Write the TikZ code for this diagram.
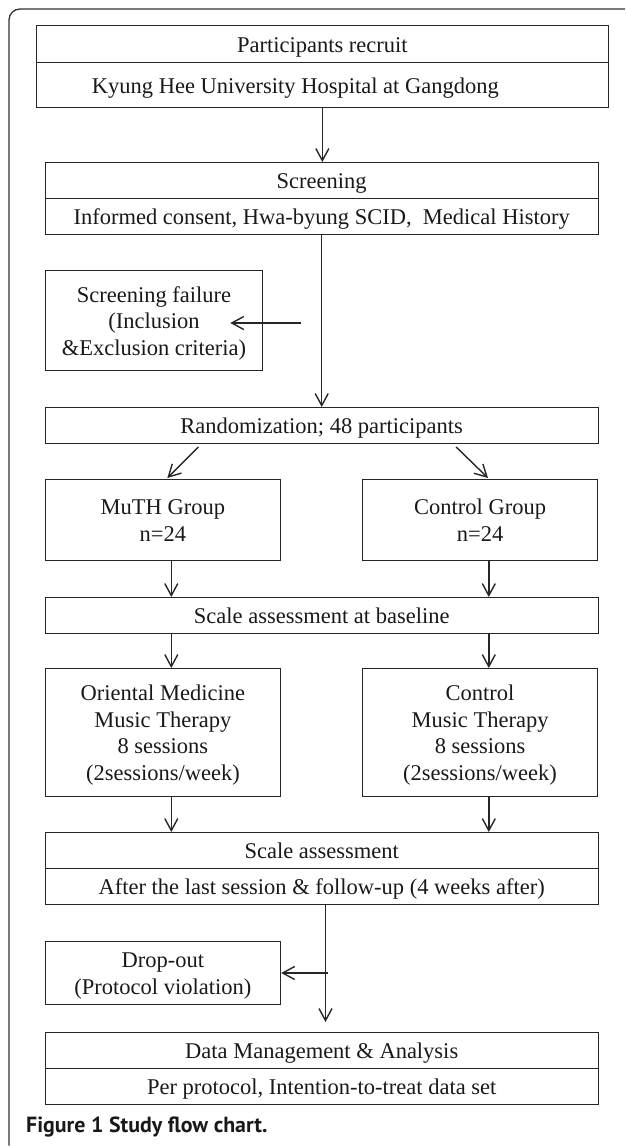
\documentclass[tikz,border=0pt]{standalone}
\usepackage{fontspec}
\setmainfont{Liberation Serif}
\newfontfamily\capfont{PT Sans}
\usetikzlibrary{arrows.meta}
\begin{document}
\begin{tikzpicture}[x=1pt,y=-1pt,
  box/.style={draw=black!85, line width=1.2pt, inner sep=0pt, anchor=north west,
    align=center, font=\fontsize{22.5}{26.5}\selectfont, text=black!90,
    text height=16pt, text depth=0pt},
  lines/.style={text height=#1},
  wide/.style={box, minimum width=553pt, minimum height=36pt},
  half/.style={box, minimum width=235.4pt},
  arr/.style={draw=black!85, line width=1.4pt,
    -{Straight Barb[length=12pt,width=13pt]}},
  frame/.style={draw=black!80, line width=1.3pt, rounded corners=11pt}]
\useasboundingbox (0,0) rectangle (625,1146);
\draw[frame] (9,1145.5) -- (9,9) -- (625,9);

\node[box, minimum width=571.7pt, minimum height=37pt] (recT) at (35.9,25) {Participants recruit};
\node[box, minimum width=571.7pt, minimum height=45pt] (recB) at (35.9,62) {\hspace*{-54pt}Kyung Hee University Hospital at Gangdong};
\node[wide] (scrT) at (44.6,162) {Screening};
\node[wide] (scrB) at (44.6,198) {Informed consent, Hwa-byung SCID,\ \ Medical History};
\node[box, lines=69pt, minimum width=217.6pt, minimum height=100pt] (fail) at (44.6,270) {Screening failure\\(Inclusion\\\&Exclusion criteria)};
\node[wide] (rand) at (44.6,407) {Randomization; 48 participants};
\node[half, lines=42.5pt, minimum height=81pt] (muth) at (44.6,479) {MuTH Group\\n=24};
\node[half, lines=42.5pt, minimum height=81pt] (ctrl) at (361.8,479) {Control Group\\n=24};
\node[wide] (base) at (44.6,597) {Scale assessment at baseline};
\node[half, lines=95.5pt, minimum height=128pt] (ther1) at (44.6,668) {Oriental Medicine\\Music Therapy\\8 sessions\\(2sessions/week)};
\node[half, lines=95.5pt, minimum height=128pt] (ther2) at (361.8,668) {Control\\Music Therapy\\8 sessions\\(2sessions/week)};
\node[wide] (scT) at (44.6,832) {Scale assessment};
\node[wide] (scB) at (44.6,868) {After the last session \& follow-up (4 weeks after)};
\node[half, lines=42.5pt, minimum height=63pt] (drop) at (44.6,941) {Drop-out\\(Protocol violation)};
\node[wide] (datT) at (44.6,1032) {Data Management \& Analysis};
\node[wide] (datB) at (44.6,1068) {Per protocol, Intention-to-treat data set};

\node[anchor=base west, inner sep=0pt, font=\capfont\bfseries\fontsize{21.9}{26}\selectfont, text=black!90] (cap) at (26,1132) {Figure 1 Study flow chart.};

\coordinate (xl) at (171.3,0);
\coordinate (xr) at (488.8,0);
\coordinate (xm) at (325.5,0);
\coordinate (f1) at (300.8,323);
\coordinate (f2) at (230.3,323);
\coordinate (d1s) at (198.4,447);
\coordinate (d1e) at (167.3,478);
\coordinate (d2s) at (456.2,447);
\coordinate (d2e) at (488,478);
\coordinate (dend) at (325.5,1022);
\coordinate (ds) at (327.5,973);

\draw[arr] (recB.south) -- (recB.south |- scrT.north);
\draw[arr] (scrB.south) -- (rand.north);
\draw[arr] (f1) -- (f2);
\draw[arr] (d1s) -- (d1e);
\draw[arr] (d2s) -- (d2e);
\draw[arr] (muth.south -| xl) -- (base.north -| xl);
\draw[arr] (ctrl.south -| xr) -- (base.north -| xr);
\draw[arr] (base.south -| xl) -- (ther1.north -| xl);
\draw[arr] (base.south -| xr) -- (ther2.north -| xr);
\draw[arr] (ther1.south -| xl) -- (scT.north -| xl);
\draw[arr] (ther2.south -| xr) -- (scT.north -| xr);
\draw[arr] (scB.south -| xm) -- (dend);
\draw[arr] (ds) -- (ds -| drop.east);
\end{tikzpicture}
\end{document}
